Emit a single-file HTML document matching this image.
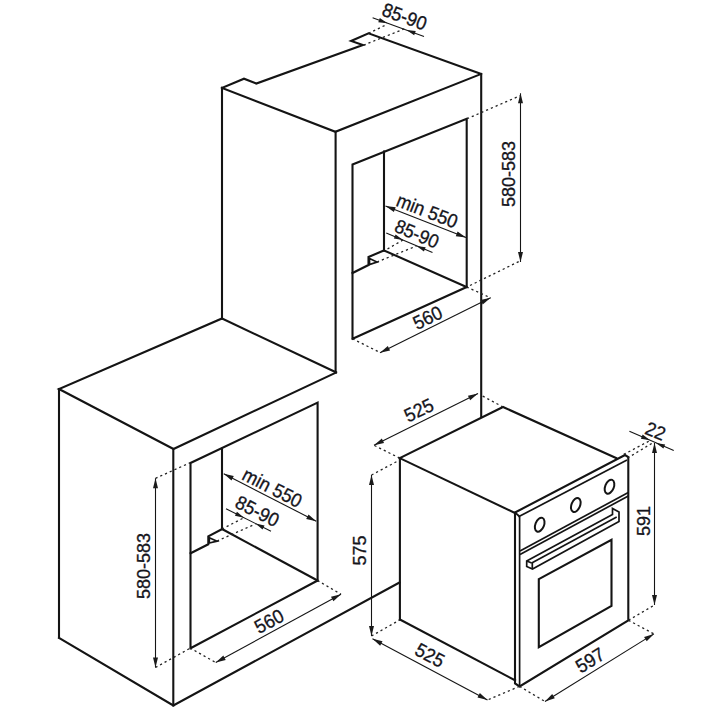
<!DOCTYPE html>
<html><head><meta charset="utf-8">
<style>
html,body{margin:0;padding:0;background:#fff;}
svg{display:block;}
text{font-family:"Liberation Sans",sans-serif;font-size:18px;fill:#15151c;stroke:#15151c;stroke-width:0.3;}
.m{fill:none;stroke:#141414;stroke-width:2.1;stroke-linejoin:miter;stroke-linecap:square;}
.t{fill:none;stroke:#141414;stroke-width:1.7;}
.tw{fill:#fff;stroke:#141414;stroke-width:1.7;}
.d{fill:none;stroke:#151515;stroke-width:1.1;}
.ds{fill:none;stroke:#222;stroke-width:1.3;stroke-dasharray:2.2 3;}
.ar{fill:#1a1a1a;stroke:none;}
</style></head>
<body>
<svg width="720" height="720" viewBox="0 0 720 720">
<polyline class="m" points="222,87.9 244,78.75 256.3,83.6 362.9,45.1 351.1,41 368.5,33.3 481,74"/>
<polyline class="m" points="222,87.9 335.4,131.8 481,74"/>
<line class="m" x1="222" y1="87.9" x2="222" y2="318.5"/>
<line class="m" x1="335.6" y1="131.8" x2="335.6" y2="372.3"/>
<line class="m" x1="481.2" y1="74" x2="481.2" y2="417"/>
<line class="m" x1="222" y1="318.5" x2="336" y2="372.3"/>
<polyline class="m" points="352.5,338.75 352.5,164.5 466.7,118.75 466.7,287 352.5,338.75"/>
<line class="m" x1="384" y1="151.5" x2="384" y2="250.4"/>
<line class="m" x1="384" y1="250.4" x2="466.7" y2="287"/>
<polyline class="m" points="352.5,273 368.5,265 368.5,257 384,250.4"/>
<polygon class="t" points="369.5,258.5 377,262 369.5,264.5"/>
<polyline class="m" points="222,318.5 59,389 173.5,449 336,372.6"/>
<line class="m" x1="59" y1="389" x2="59" y2="637.5"/>
<line class="m" x1="173.3" y1="449" x2="173.3" y2="705.5"/>
<polyline class="m" points="59,638 173.3,705.5 399.5,582.5"/>
<polyline class="m" points="190.5,648.3 190.5,463 317.6,402.6 317.6,580.5 190.5,648.3"/>
<line class="m" x1="222" y1="448.75" x2="222" y2="529"/>
<line class="m" x1="222" y1="529" x2="317.5" y2="580.5"/>
<polyline class="m" points="190.6,553.3 208.3,544.3 208.3,536.3 222.3,529"/>
<polygon class="t" points="209.3,537.8 217,541.2 209.3,543"/>
<polyline class="m" points="399.7,458.1 503,407 616.2,458"/>
<line class="m" x1="399.7" y1="458.1" x2="515" y2="513"/>
<line class="m" x1="399.9" y1="458.1" x2="399.9" y2="619.5"/>
<line class="m" x1="399.9" y1="619.5" x2="515" y2="680.3"/>
<polygon class="m" points="515,512.5 625,455 628.3,457 628.3,620.3 519.6,686.4 515,683.5 515,512.5"/>
<line class="t" x1="519.6" y1="516.5" x2="519.6" y2="686.4"/>
<line class="t" x1="518.5" y1="516.8" x2="627" y2="460"/>
<line class="t" x1="515" y1="512.5" x2="519.5" y2="516.5"/>
<line class="t" x1="520" y1="551" x2="628.3" y2="492.5"/>
<line class="t" x1="520" y1="554.6" x2="628.3" y2="496"/>
<ellipse class="t" style="stroke-width:2" cx="539.7" cy="524.7" rx="4.3" ry="7.3" transform="rotate(22 539.7 524.7)"/>
<ellipse class="t" style="stroke-width:2" cx="575.8" cy="505" rx="4.3" ry="7.3" transform="rotate(22 575.8 505)"/>
<ellipse class="t" style="stroke-width:2" cx="609.5" cy="486.7" rx="4.3" ry="7.3" transform="rotate(22 609.5 486.7)"/>
<polygon class="t" points="526.7,561 612.5,514.5 612.5,508.5 619,512 619,521.5 532.5,569 526.7,566.5"/>
<line class="t" x1="531.7" y1="563" x2="616.7" y2="517"/>
<line class="t" x1="532.3" y1="563" x2="532.3" y2="569"/>
<line class="t" x1="526.7" y1="561" x2="531.7" y2="563"/>
<polygon class="m" points="538.8,579.2 611.5,539.8 611.5,605.8 538.8,647.2"/>
<line class="d" x1="372.6" y1="17.8" x2="424" y2="36.4"/>
<polygon class="ar" points="387.50,23.20 378.27,22.25 379.81,18.02"/>
<polygon class="ar" points="406.50,30.00 415.73,30.98 414.18,35.20"/>
<line class="ds" x1="368.5" y1="33.3" x2="387.2" y2="24.3"/>
<line class="ds" x1="363.6" y1="45.1" x2="405.3" y2="28.5"/>
<g transform="translate(404.6,16.4) rotate(20) scale(1,1.07)"><text x="0" y="6.4" text-anchor="middle" style="font-size:18px">85-90</text></g>
<line class="ds" x1="467" y1="118.75" x2="520" y2="95.75"/>
<line class="ds" x1="470" y1="285.5" x2="520" y2="261"/>
<line class="d" x1="520.5" y1="93.3" x2="520.5" y2="262"/>
<polygon class="ar" points="520.50,93.30 523.00,103.30 518.00,103.30"/>
<polygon class="ar" points="520.50,262.00 518.00,252.00 523.00,252.00"/>
<g transform="translate(508,174) rotate(-90) scale(1,1.07)"><text x="0" y="6.4" text-anchor="middle" style="font-size:18px">580-583</text></g>
<line class="d" x1="385.5" y1="206" x2="466" y2="237.5"/>
<polygon class="ar" points="385.50,206.00 395.72,207.32 393.90,211.97"/>
<polygon class="ar" points="466.00,237.50 455.78,236.18 457.60,231.53"/>
<g transform="translate(427.2,210.7) rotate(21.3) scale(1,1.07)"><text x="0" y="6.4" text-anchor="middle" style="font-size:18px">min 550</text></g>
<line class="d" x1="386.25" y1="232.9" x2="432.5" y2="252.5"/>
<polygon class="ar" points="403.00,240.00 393.84,238.56 395.59,234.42"/>
<polygon class="ar" points="416.50,245.90 425.68,247.25 423.96,251.41"/>
<line class="ds" x1="387.5" y1="249" x2="403" y2="240"/>
<line class="ds" x1="377" y1="262" x2="416.5" y2="246"/>
<g transform="translate(417,233.7) rotate(23) scale(1,1.07)"><text x="0" y="6.4" text-anchor="middle" style="font-size:18px">85-90</text></g>
<line class="ds" x1="352.5" y1="338.75" x2="380" y2="352.5"/>
<line class="ds" x1="466.7" y1="287" x2="490.6" y2="297.8"/>
<line class="d" x1="380" y1="352.8" x2="490.6" y2="297.8"/>
<polygon class="ar" points="380.00,352.80 387.84,346.11 390.07,350.59"/>
<polygon class="ar" points="490.60,297.80 482.76,304.49 480.53,300.01"/>
<g transform="translate(427.5,317.5) rotate(-25.8) scale(1,1.07)"><text x="0" y="6.4" text-anchor="middle" style="font-size:18px">560</text></g>
<line class="ds" x1="155.5" y1="478.3" x2="190" y2="462.8"/>
<line class="ds" x1="155.5" y1="667.5" x2="190" y2="648.3"/>
<line class="d" x1="155.5" y1="478.3" x2="155.5" y2="667.5"/>
<polygon class="ar" points="155.50,478.30 158.00,488.30 153.00,488.30"/>
<polygon class="ar" points="155.50,667.50 153.00,657.50 158.00,657.50"/>
<g transform="translate(143,566) rotate(-90) scale(1,1.07)"><text x="0" y="6.4" text-anchor="middle" style="font-size:18px">580-583</text></g>
<line class="d" x1="223.75" y1="473.75" x2="316.25" y2="521.25"/>
<polygon class="ar" points="223.75,473.75 233.79,476.09 231.50,480.54"/>
<polygon class="ar" points="316.25,521.25 306.21,518.91 308.50,514.46"/>
<g transform="translate(272.4,487.5) rotate(27.2) scale(1,1.07)"><text x="0" y="6.4" text-anchor="middle" style="font-size:18px">min 550</text></g>
<line class="d" x1="226" y1="508.75" x2="271" y2="531.25"/>
<polygon class="ar" points="244.00,517.70 234.94,515.71 236.94,511.68"/>
<polygon class="ar" points="255.50,523.50 264.56,525.51 262.54,529.54"/>
<line class="ds" x1="222" y1="529" x2="244" y2="517.7"/>
<line class="ds" x1="217" y1="541" x2="255.5" y2="524"/>
<g transform="translate(257.5,511) rotate(26.6) scale(1,1.07)"><text x="0" y="6.4" text-anchor="middle" style="font-size:18px">85-90</text></g>
<line class="ds" x1="190" y1="648" x2="215.75" y2="662.5"/>
<line class="ds" x1="317.5" y1="580.5" x2="341" y2="594.25"/>
<line class="d" x1="215.75" y1="662.5" x2="341" y2="594.25"/>
<polygon class="ar" points="215.75,662.50 223.33,655.52 225.73,659.91"/>
<polygon class="ar" points="341.00,594.25 333.42,601.23 331.02,596.84"/>
<g transform="translate(269,621) rotate(-28.6) scale(1,1.07)"><text x="0" y="6.4" text-anchor="middle" style="font-size:18px">560</text></g>
<line class="ds" x1="399.7" y1="458.1" x2="374" y2="445.3"/>
<line class="ds" x1="503" y1="407" x2="482.5" y2="396"/>
<line class="d" x1="374" y1="445.3" x2="478" y2="393.5"/>
<polygon class="ar" points="374.00,445.30 381.84,438.60 384.07,443.08"/>
<polygon class="ar" points="478.00,393.50 470.16,400.20 467.93,395.72"/>
<g transform="translate(418.75,410) rotate(-26) scale(1,1.07)"><text x="0" y="6.4" text-anchor="middle" style="font-size:18px">525</text></g>
<line class="ds" x1="371.5" y1="475" x2="399.7" y2="460"/>
<line class="ds" x1="371.5" y1="636" x2="399.7" y2="620"/>
<line class="d" x1="371.5" y1="475" x2="371.5" y2="636"/>
<polygon class="ar" points="371.50,475.00 374.00,485.00 369.00,485.00"/>
<polygon class="ar" points="371.50,636.00 369.00,626.00 374.00,626.00"/>
<g transform="translate(359.4,550.5) rotate(-90) scale(1,1.07)"><text x="0" y="6.4" text-anchor="middle" style="font-size:18px">575</text></g>
<line class="ds" x1="519.4" y1="686.4" x2="487.5" y2="700"/>
<line class="d" x1="372.5" y1="638.75" x2="487.5" y2="700"/>
<polygon class="ar" points="372.50,638.75 382.50,641.24 380.15,645.66"/>
<polygon class="ar" points="487.50,700.00 477.50,697.51 479.85,693.09"/>
<g transform="translate(430,655) rotate(28) scale(1,1.07)"><text x="0" y="6.4" text-anchor="middle" style="font-size:18px">525</text></g>
<line class="ds" x1="519.6" y1="686.4" x2="545" y2="701.5"/>
<line class="ds" x1="628.5" y1="620.3" x2="653.9" y2="633.9"/>
<line class="d" x1="545" y1="701.5" x2="653.9" y2="633.9"/>
<polygon class="ar" points="545.00,701.50 552.18,694.10 554.81,698.35"/>
<polygon class="ar" points="653.90,633.90 646.72,641.30 644.09,637.05"/>
<g transform="translate(590,660) rotate(-31.4) scale(1,1.07)"><text x="0" y="6.4" text-anchor="middle" style="font-size:18px">597</text></g>
<line class="ds" x1="628.5" y1="620.3" x2="654.5" y2="605"/>
<line class="d" x1="654.5" y1="443" x2="654.5" y2="605"/>
<polygon class="ar" points="654.50,443.00 657.00,453.00 652.00,453.00"/>
<polygon class="ar" points="654.50,605.00 652.00,595.00 657.00,595.00"/>
<g transform="translate(642.7,521) rotate(-90) scale(1,1.07)"><text x="0" y="6.4" text-anchor="middle" style="font-size:18px">591</text></g>
<line class="d" x1="629.4" y1="431.25" x2="673.75" y2="450.6"/>
<polygon class="ar" points="650.00,440.30 640.86,438.74 642.67,434.62"/>
<polygon class="ar" points="656.00,443.00 665.16,444.47 663.39,448.61"/>
<line class="ds" x1="623.75" y1="454.4" x2="650" y2="440.6"/>
<line class="ds" x1="627.5" y1="458" x2="652.5" y2="443"/>
<g transform="translate(655.6,431) rotate(22) scale(1,1.07)"><text x="0" y="6.4" text-anchor="middle" style="font-size:18px">22</text></g>
</svg>
</body></html>
